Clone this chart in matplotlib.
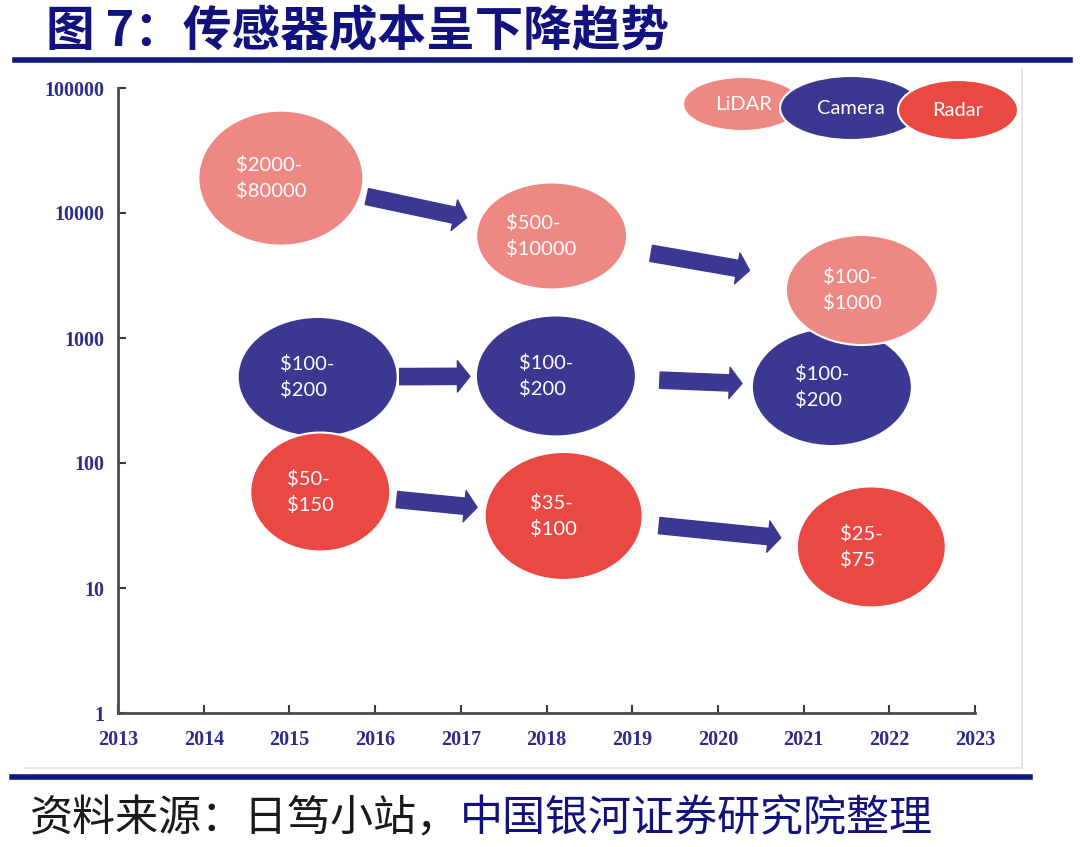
import matplotlib
matplotlib.use("Agg")
import matplotlib.pyplot as plt
from matplotlib.patches import Ellipse
from matplotlib.lines import Line2D
import numpy as np

plt.rcParams['font.family'] = ['Noto Sans CJK SC', 'DejaVu Sans']

# ---------------- data ----------------
title = "图 7：传感器成本呈下降趋势"
source_a = "资料来源：日笃小站，"
source_b = "中国银河证券研究院整理"

x_ticks = [2013, 2014, 2015, 2016, 2017, 2018, 2019, 2020, 2021, 2022, 2023]
y_ticks = [1, 10, 100, 1000, 10000, 100000]
y_tick_labels = ["1", "10", "100", "1000", "10000", "100000"]

sensors = ["LiDAR", "Camera", "Radar"]
# bubble centres (year, cost level on log axis) and labels
lidar_x = [2014.90, 2018.06, 2021.68]
lidar_y = [19000, 6550, 2420]
lidar_labels = ["$2000-\n$80000", "$500-\n$10000", "$100-\n$1000"]

camera_x = [2015.33, 2018.11, 2021.33]
camera_y = [488, 497, 405]
camera_labels = ["$100-\n$200", "$100-\n$200", "$100-\n$200"]

radar_x = [2015.36, 2018.20, 2021.79]
radar_y = [58.6, 37.7, 21.3]
radar_labels = ["$50-\n$150", "$35-\n$100", "$25-\n$75"]

# ---------------- style ----------------
NAVY = "#12127e"
RULE = "#0f1a7e"
C_LIDAR = "#ee8883"
C_CAMERA = "#3b3891"
C_RADAR = "#e94843"
ARROW = "#3b3891"

W, H = 1080, 847
fig = plt.figure(figsize=(W / 100, H / 100), dpi=100)
ax = fig.add_axes([118 / W, 1 - 713 / H, (975 - 118) / W, (713 - 88) / H])
ax.set_yscale("log")
ax.set_xlim(2013, 2023)
ax.set_ylim(1, 100000)

for s in ["top", "right"]:
    ax.spines[s].set_visible(False)
for s in ["left", "bottom"]:
    ax.spines[s].set_color("#4a4a4a")
    ax.spines[s].set_linewidth(2)

ax.set_xticks(x_ticks)
ax.set_xticklabels([str(v) for v in x_ticks])
ax.set_yticks(y_ticks)
ax.set_yticklabels(y_tick_labels)
ax.yaxis.set_minor_locator(matplotlib.ticker.NullLocator())
ax.tick_params(axis="both", direction="in", length=6, width=1.5, color="#3a3a3a")
ax.tick_params(axis="x", pad=12)
ax.tick_params(axis="y", pad=10)
for lab in ax.get_xticklabels() + ax.get_yticklabels():
    lab.set_fontfamily("Liberation Serif")
    lab.set_fontsize(14.5)
    lab.set_fontweight("bold")
    lab.set_color("#2c2c8a")

fig.canvas.draw()
ax_w_px = (975 - 118)
ax_h_px = (713 - 88)


def to_axes(x, y):
    d = ax.transData.transform((x, y))
    return ax.transAxes.inverted().transform(d)


text_shift = matplotlib.transforms.ScaledTranslation(-10 / 100, 0, fig.dpi_scale_trans)


def bubble(x, y, w_px, h_px, color, label, z):
    cx, cy = to_axes(x, y)
    e = Ellipse((cx, cy), w_px / ax_w_px, h_px / ax_h_px, transform=ax.transAxes,
                facecolor=color, edgecolor="white", linewidth=1.5, zorder=z, clip_on=False)
    ax.add_patch(e)
    ax.text(x, y, label, ha="center", va="center", multialignment="left",
            color="white", fontsize=14.5, family=["Lato", "DejaVu Sans"],
            linespacing=1.55, zorder=z + 0.1, transform=ax.transData + text_shift)


def arrows(xs, ys, starts_px, ends_px):
    for i in range(len(xs) - 1):
        ax.annotate("", xy=(xs[i + 1], ys[i + 1]), xytext=(xs[i], ys[i]),
                    arrowprops=dict(arrowstyle="simple,head_length=0.6,head_width=1.5,tail_width=0.78",
                                    color=ARROW, shrinkA=starts_px[i] * 0.72,
                                    shrinkB=ends_px[i] * 0.72, mutation_scale=15),
                    zorder=2)


sizes_lidar = [(165, 135), (151, 107), (152, 110)]
sizes_camera = [(160, 120), (160, 121), (160, 118)]
sizes_radar = [(140, 119), (158, 128), (149, 121)]

for x, y, lab, (w, h) in zip(camera_x, camera_y, camera_labels, sizes_camera):
    bubble(x, y, w, h, C_CAMERA, lab, 3)
for x, y, lab, (w, h) in zip(lidar_x, lidar_y, lidar_labels, sizes_lidar):
    bubble(x, y, w, h, C_LIDAR, lab, 4)
for x, y, lab, (w, h) in zip(radar_x, radar_y, radar_labels, sizes_radar):
    bubble(x, y, w, h, C_RADAR, lab, 5)

arrows(lidar_x, lidar_y, [88, 101], [87, 114])
arrows(camera_x, camera_y, [82, 104], [86, 90])
arrows(radar_x, radar_y, [77, 96], [87, 91])

# ---------------- legend (overlapping ellipses) ----------------
leg_colors = [C_LIDAR, C_CAMERA, C_RADAR]
leg_geom = [(742, 104, 118, 54), (851, 108, 142, 64), (958, 110, 120, 60)]
leg_text_dx = [2, 0, 0]
for i, (name, col, (cx, cy, w, h)) in enumerate(zip(sensors, leg_colors, leg_geom)):
    e = Ellipse((cx / W, 1 - cy / H), w / W, h / H, transform=fig.transFigure,
                facecolor=col, edgecolor="white", linewidth=1.5, zorder=10 + i)
    fig.add_artist(e)
    fig.text((cx + leg_text_dx[i]) / W, 1 - cy / H, name, ha="center", va="center", color="white",
             fontsize=14.5, family=["Lato", "DejaVu Sans"], zorder=20 + i)

# ---------------- frame, title, rules, source ----------------
fig.add_artist(Line2D([1022 / W, 1022 / W], [1 - 68 / H, 1 - 768 / H], transform=fig.transFigure,
                      color="#e2e2e2", linewidth=1.2))
fig.add_artist(Line2D([25 / W, 1022 / W], [1 - 768 / H, 1 - 768 / H], transform=fig.transFigure,
                      color="#e2e2e2", linewidth=1.2))
fig.add_artist(Line2D([15 / W, 1070 / W], [1 - 60 / H, 1 - 60 / H], transform=fig.transFigure,
                      color=RULE, linewidth=4))
fig.add_artist(Line2D([12 / W, 1030 / W], [1 - 777 / H, 1 - 777 / H], transform=fig.transFigure,
                      color=RULE, linewidth=4))

fig.text(46 / W, 1 - 32 / H, title, ha="left", va="center", fontsize=35, fontweight="bold",
         color=NAVY)

t1 = fig.text(30 / W, 1 - 819 / H, source_a, ha="left", va="center", fontsize=31,
              color="#1a1a1a", fontstyle="italic", fontweight="light")
fig.canvas.draw()
ax.annotate(source_b, xy=(1, 0.5), xycoords=t1, ha="left", va="center", fontsize=31,
            color=NAVY, fontstyle="italic", fontweight="medium", annotation_clip=False)

fig.savefig("out.png", dpi=100)
